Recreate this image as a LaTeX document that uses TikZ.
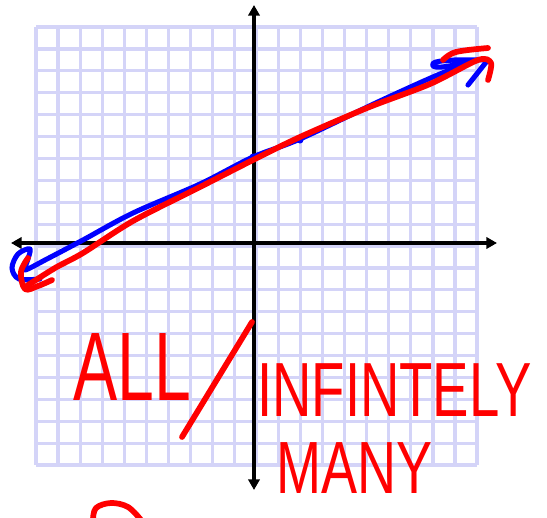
\documentclass[tikz,border=0pt]{standalone}
\usepackage{fontspec}
\usepackage{graphicx}
\setmainfont{Liberation Sans}
\usetikzlibrary{arrows.meta}
\definecolor{gridc}{RGB}{212,212,248}
\definecolor{pen}{RGB}{255,0,0}
\definecolor{bpen}{RGB}{0,0,255}
\tikzset{
  gridline/.style={draw=gridc, line width=2.4pt},
  axis/.style={draw=black, line width=3pt, -{Triangle[length=8pt,width=8.5pt]}},
  bstroke/.style={draw=bpen, line width=3.8pt, line cap=round, line join=round},
  rstroke/.style={draw=pen, line width=4.3pt, line cap=round, line join=round},
  hw/.style={text=pen, inner sep=0pt, anchor=base west},
}
\begin{document}
\begin{tikzpicture}[x=0.75pt,y=-0.75pt]
\useasboundingbox (0,0) rectangle (547,518);
% grid
\foreach \i in {0,...,20} {
  \draw[gridline] ({36+22.05*\i},27) -- ({36+22.05*\i},465);
  \draw[gridline] (36,{27+21.9*\i}) -- (477,{27+21.9*\i});
}
% axes
\coordinate (xl) at (254,243);
\coordinate (xL) at (11,243);
\coordinate (xR) at (497,243);
\coordinate (yT) at (254,5);
\coordinate (yB) at (254,490);
\draw[axis] (xl) -- (xL);
\draw[axis] (xl) -- (xR);
\draw[axis] (xl) -- (yT);
\draw[axis] (xl) -- (yB);
% blue line
\draw[bstroke] plot[smooth, tension=0.55] coordinates {(40,279) (19,279) (12,268) (18,254) (30,249) (27,262) (25,270) (47,259) (83,240) (133,213) (200,184) (253,157) (300,139) (380,101) (440,74) (478,60)};
\draw[bstroke] plot[smooth, tension=0.6] coordinates {(486,60) (455,60) (436,62) (433,66) (442,67) (465,63)};
\draw[bstroke] (468,85) -- (487,61);
\fill[bpen] (253,157) circle (3.5);
\fill[bpen] (300,140) circle (3.5);
% red line
\draw[rstroke] plot[smooth, tension=0.6] coordinates {(28,258) (21,272) (25,289) (38,286) (52,280)};
\draw[rstroke] plot[smooth, tension=0.5] coordinates {(25,287) (55,268) (83,253) (133,221) (200,187) (253,160) (300,137) (367,108) (430,84) (478,60) (491,63) (488,80)};
\draw[rstroke] plot[smooth, tension=0.6] coordinates {(443,60) (456,52) (488,48)};
% handwriting
\node[hw] (all) at (73,400) {\fontsize{73pt}{73pt}\selectfont\scalebox{0.68}[1]{ALL}};
\coordinate (s1) at (252,322);
\coordinate (s2) at (182,437);
\draw[rstroke] (s1) -- (s2);
\node[hw] (inf) at (257,416) {\fontsize{57.6pt}{57.6pt}\selectfont\scalebox{0.71}[1]{INFINTELY}};
\node[hw] (many) at (276,493) {\fontsize{55.5pt}{55.5pt}\selectfont\scalebox{0.73}[1]{MANY}};
\draw[rstroke] plot[smooth, tension=0.6] coordinates {(93,520) (96,508) (111,503) (128,507) (141,520)};
\end{tikzpicture}
\end{document}
